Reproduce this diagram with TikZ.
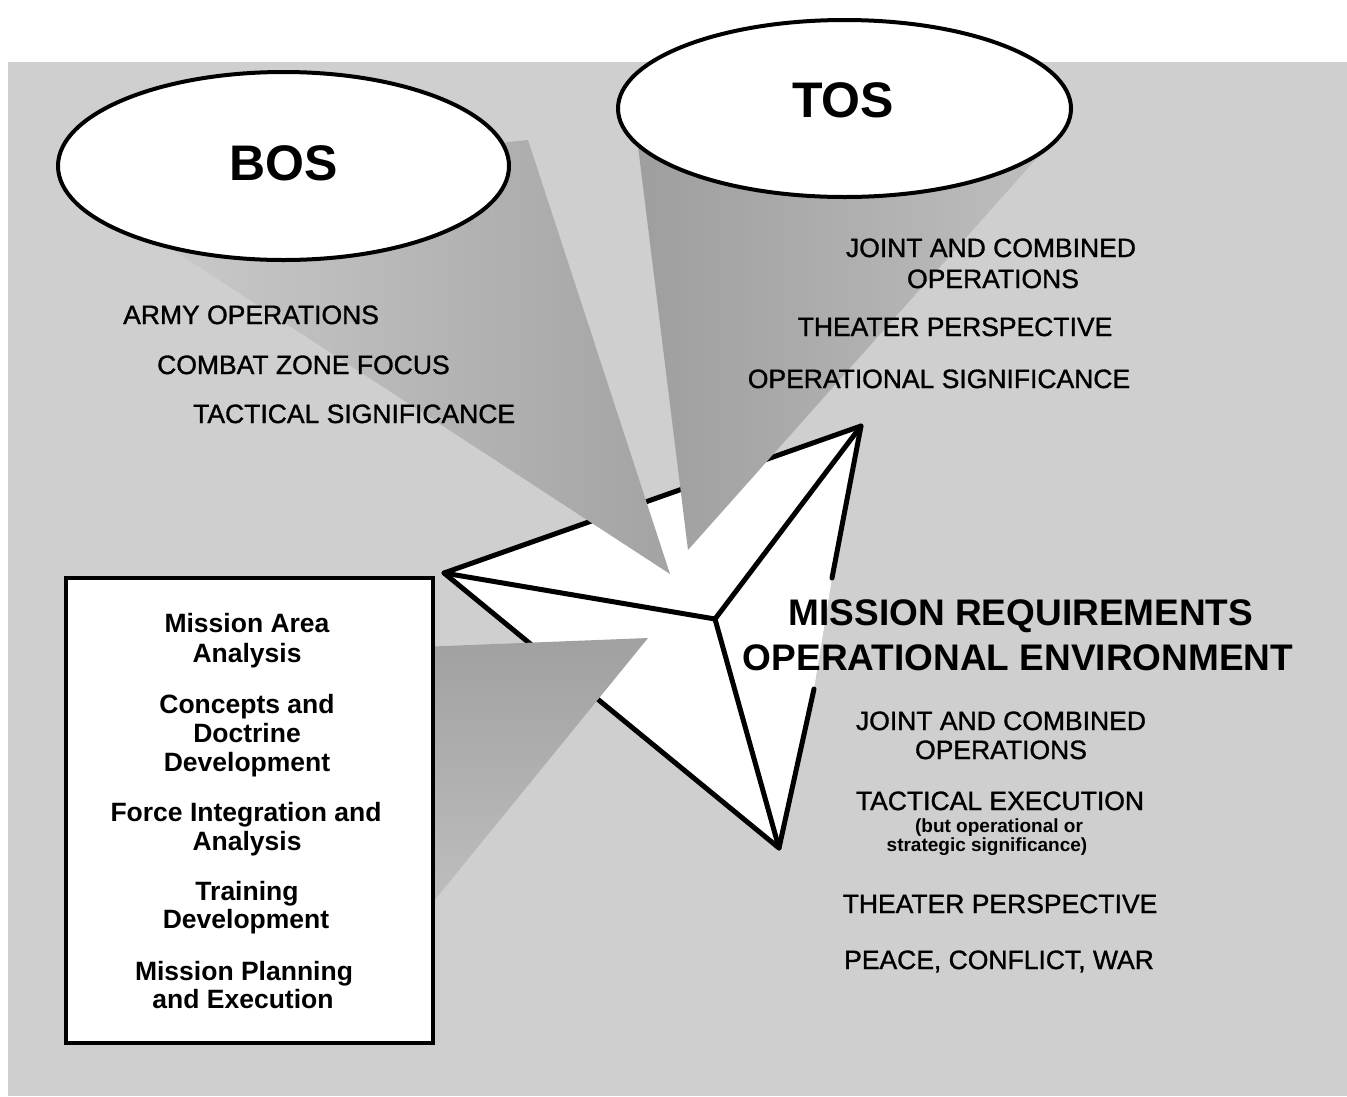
\documentclass[tikz,border=0pt]{standalone}
\usepackage{fontspec}
\setmainfont{Liberation Sans}
\newfontfamily\medfont[FakeBold=1.2]{Liberation Sans}
\usetikzlibrary{shapes.geometric}
\definecolor{bgc}{gray}{0.81}
\begin{document}
\begin{tikzpicture}[x=1pt,y=-1pt,
  starline/.style={line width=5pt, line join=round, line cap=round},
  oval/.style={ellipse, draw, line width=4pt, fill=white, inner sep=0},
  lbl/.style={inner sep=0, anchor=base, font=\medfont\fontsize{26.5}{30}\selectfont},
  lblw/.style={lbl, anchor=base west},
  hdr/.style={inner sep=0, anchor=base, font=\bfseries\fontsize{37}{40}\selectfont},
  sml/.style={inner sep=0, anchor=base, font=\bfseries\fontsize{19}{22}\selectfont},
  boxt/.style={inner sep=0, anchor=base, font=\bfseries\fontsize{26.5}{30}\selectfont},
  ttl/.style={inner sep=0, anchor=base, font=\bfseries\fontsize{50}{55}\selectfont}]
\useasboundingbox (0,0) rectangle (1347,1096);
\fill[bgc] (8,62) rectangle (1347,1096);

% star (triangular pyramid seen from above)
\coordinate (L) at (444,573);
\coordinate (T) at (861,426);
\coordinate (B) at (779,848);
\coordinate (C) at (715,619);
\coordinate (R1) at (832,578);
\coordinate (R2) at (814,689);
\fill[white] (L) -- (T) -- (R1) -- (R2) -- (B) -- cycle;
\draw[starline] (R2) -- (B) -- (L) -- (T) -- (R1);
\draw[starline] (L) -- (C) -- (T) (C) -- (B);

% beams
\shade[left color=black!20, right color=black!36]
  (127,220) -- (283,166) -- (528,140) -- (670,574) -- cycle;
\shade[left color=black!38, right color=black!25]
  (636,130) -- (845,100) -- (1060,132) -- (688,550) -- cycle;
\shade[top color=black!37, bottom color=black!25]
  (420,647) -- (648,638) -- (420,918) -- cycle;

% ovals
\node[oval, minimum width=451pt, minimum height=188pt] (bos) at (283.5,166) {};
\node[oval, minimum width=453pt, minimum height=177pt] (tos) at (844.5,108.5) {};
\node[ttl] (bosl) at (284,180) {BOS};
\node[ttl] (tosl) at (843,117) {TOS};

% box
\node[draw, line width=3.5pt, fill=white, minimum width=367pt, minimum height=465pt, inner sep=0] (box) at (249.5,810.5) {};
\node[boxt] (b1) at (247,632) {Mission Area};
\node[boxt] (b2) at (247,662) {Analysis};
\node[boxt] (b3) at (247,713) {Concepts and};
\node[boxt] (b4) at (247,742) {Doctrine};
\node[boxt] (b5) at (247,771) {Development};
\node[boxt] (b6) at (246,821) {Force Integration and};
\node[boxt] (b7) at (247,850) {Analysis};
\node[boxt] (b8) at (247,900) {Training};
\node[boxt] (b9) at (246,928) {Development};
\node[boxt] (b10) at (244,980) {Mission Planning};
\node[boxt] (b11) at (243,1008) {and Execution};

% BOS list
\node[lblw] (a1) at (123,324) {ARMY OPERATIONS};
\node[lblw] (a2) at (157,374) {COMBAT ZONE FOCUS};
\node[lblw] (a3) at (193,423) {TACTICAL SIGNIFICANCE};

% TOS list
\node[lbl] (c1) at (991,257) {JOINT AND COMBINED};
\node[lbl] (c2) at (993,288) {OPERATIONS};
\node[lbl] (c3) at (955,336) {THEATER PERSPECTIVE};
\node[lbl] (c4) at (939,388) {OPERATIONAL SIGNIFICANCE};

% mission requirements
\node[hdr] (m1) at (1021,625) {MISSION REQUIREMENTS};
\node[hdr] (m2) at (1018,670) {OPERATIONAL ENVIRONMENT};
\node[lbl] (d1) at (1001,730) {JOINT AND COMBINED};
\node[lbl] (d2) at (1001,759) {OPERATIONS};
\node[lbl] (d3) at (1000,810) {TACTICAL EXECUTION};
\node[sml] (d4) at (999,832) {(but operational or};
\node[sml] (d5) at (987,851) {strategic significance)};
\node[lbl] (d6) at (1000,913) {THEATER PERSPECTIVE};
\node[lbl] (d7) at (999,969) {PEACE, CONFLICT, WAR};
\end{tikzpicture}
\end{document}
